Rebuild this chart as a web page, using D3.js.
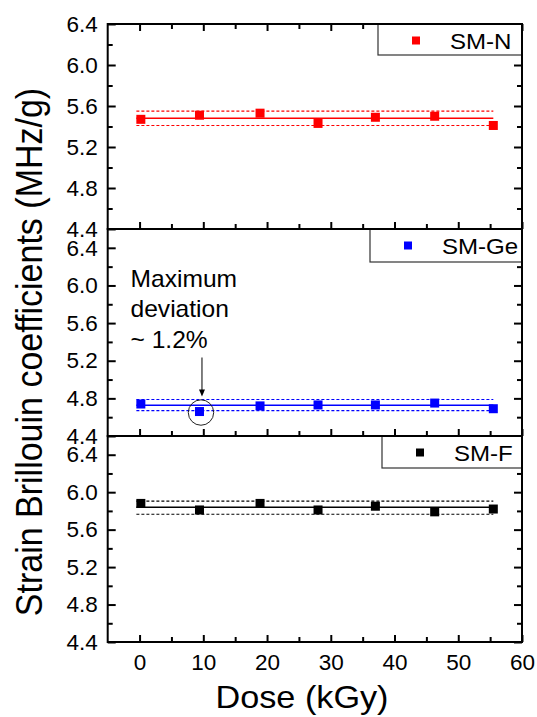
<!DOCTYPE html>
<html><head><meta charset="utf-8">
<script src="https://cdn.jsdelivr.net/npm/d3@7"></script>
<style>
body{margin:0;background:#fff}
svg{display:block}
text{font-family:"Liberation Sans",Arial,Helvetica,sans-serif;fill:#000}
</style>
</head><body>
<svg id="c" width="537" height="717"></svg>
<script>
// ---- data ----
const doses = [0.2, 9.4, 18.9, 28.0, 37.0, 46.3, 55.5];
const seriesNames = ["SM-N", "SM-Ge", "SM-F"];
const seriesColors = ["#ff0000", "#0000ff", "#000000"];
const smN  = [5.47, 5.51, 5.53, 5.43, 5.49, 5.50, 5.41];
const smGe = [4.74, 4.66, 4.72, 4.73, 4.73, 4.75, 4.69];
const smF  = [5.88, 5.81, 5.88, 5.81, 5.85, 5.79, 5.82];
const fitMean  = [5.48, 4.728, 5.84];
const fitUpper = [5.55, 4.788, 5.905];
const fitLower = [5.41, 4.67, 5.765];
const fitRange = [-0.5, 55.5];
const yDomains = [[4.4, 6.4], [4.4, 6.6], [4.4, 6.6]];
const yMajorTicks = [4.4, 4.8, 5.2, 5.6, 6.0, 6.4];
const yMinorTicks = [4.6, 5.0, 5.4, 5.8, 6.2];
const xMajorTicks = [0, 10, 20, 30, 40, 50, 60];
const xMinorTicks = [5, 15, 25, 35, 45, 55];
const xDomain = [-5, 60];
const xTitle = "Dose (kGy)";
const yTitle = "Strain Brillouin coefficients (MHz/g)";
const annotationLines = ["Maximum", "deviation", "~ 1.2%"];
const annotatedIndex = 1; // SM-Ge at second dose

const seriesValues = [smN, smGe, smF];

// ---- layout ----
const svg = d3.select("#c");
const L = 107.7, R = 522;
const tops = [24, 229, 436], bottoms = [229, 436, 642];
const legendLeft = [378, 370, 382];
const legendH = [31, 33, 32];
const x = d3.scaleLinear().domain(xDomain).range([L, R]);
const SX = 1.07;

function stretchedText(g, tx, ty, str, size, anchor, rot) {
  const t = g.append("text")
    .attr("transform", `translate(${tx},${ty}) scale(${SX},1)` + (rot ? ` rotate(${rot})` : ""))
    .attr("font-size", size)
    .attr("text-anchor", anchor || "start")
    .text(str);
  return t;
}

seriesNames.forEach((name, i) => {
  const top = tops[i], bot = bottoms[i];
  const y = d3.scaleLinear().domain(yDomains[i]).range([bot, top]);
  const g = svg.append("g");
  const col = seriesColors[i];
  const vals = seriesValues[i];

  // fit lines
  const lineGen = d3.line().x(d => x(d[0])).y(d => y(d[1]));
  [[fitUpper[i], "3,2", 1.1], [fitLower[i], "3,2", 1.1], [fitMean[i], null, 1.5]].forEach(([v, dash, w]) => {
    g.append("path")
      .attr("d", lineGen([[fitRange[0], v], [fitRange[1], v]]))
      .attr("stroke", col).attr("stroke-width", w).attr("fill", "none")
      .attr("stroke-dasharray", dash);
  });

  // points
  const ms = 9;
  g.selectAll("rect.pt").data(doses.map((d, k) => [d, vals[k]])).enter()
    .append("rect").attr("class", "pt")
    .attr("x", d => x(d[0]) - ms / 2).attr("y", d => y(d[1]) - ms / 2)
    .attr("width", ms).attr("height", ms).attr("fill", col);

  // axes
  const styleAxis = sel => {
    sel.select(".domain").remove();
    sel.selectAll("line").attr("stroke", "#000").attr("stroke-width", 2);
    sel.selectAll("text").attr("font-size", 22.5).attr("fill", "#000")
      .attr("font-family", '"Liberation Sans",Arial,sans-serif');
  };
  g.append("g").attr("transform", `translate(${L},0)`)
    .call(d3.axisLeft(y).tickValues(yMajorTicks).tickSize(-8).tickPadding(10).tickFormat(d3.format(".1f")))
    .call(styleAxis);
  g.append("g").attr("transform", `translate(${L},0)`)
    .call(d3.axisLeft(y).tickValues(yMinorTicks).tickSize(-5).tickFormat(""))
    .call(styleAxis);
  g.append("g").attr("transform", `translate(${R},0)`)
    .call(d3.axisRight(y).tickValues(yMajorTicks).tickSize(-8).tickFormat(""))
    .call(styleAxis);
  g.append("g").attr("transform", `translate(${R},0)`)
    .call(d3.axisRight(y).tickValues(yMinorTicks).tickSize(-5).tickFormat(""))
    .call(styleAxis);
  g.append("g").attr("transform", `translate(0,${bot})`)
    .call(d3.axisBottom(x).tickValues(xMajorTicks).tickSize(-7).tickFormat(i === 2 ? d3.format("d") : "").tickPadding(12))
    .call(styleAxis);
  g.append("g").attr("transform", `translate(0,${bot})`)
    .call(d3.axisBottom(x).tickValues(xMinorTicks).tickSize(-5).tickFormat(""))
    .call(styleAxis);
  if (i === 0) {
    g.append("g").attr("transform", `translate(0,${top})`)
      .call(d3.axisTop(x).tickValues(xMajorTicks).tickSize(-7).tickFormat(""))
      .call(styleAxis);
    g.append("g").attr("transform", `translate(0,${top})`)
      .call(d3.axisTop(x).tickValues(xMinorTicks).tickSize(-5).tickFormat(""))
      .call(styleAxis);
  }

  // legend
  const lx = legendLeft[i];
  g.append("rect").attr("x", lx).attr("y", top).attr("width", R - lx).attr("height", legendH[i])
    .attr("fill", "#fff").attr("stroke", "#333").attr("stroke-width", 1.2);
  g.append("rect").attr("x", lx + 34).attr("y", top + 12.5).attr("width", 8).attr("height", 8).attr("fill", col);
  stretchedText(g, lx + 72, top + 24.5, name, 22.5, "start");

  // frame
  g.append("rect").attr("x", L).attr("y", top).attr("width", R - L).attr("height", bot - top)
    .attr("fill", "none").attr("stroke", "#000").attr("stroke-width", 2);

  // annotation
  if (i === 1) {
    const px = x(doses[annotatedIndex]), py = y(vals[annotatedIndex]);
    g.append("circle").attr("cx", px + 1.5).attr("cy", py + 1).attr("r", 12.7)
      .attr("fill", "none").attr("stroke", "#222").attr("stroke-width", 1);
    g.append("line").attr("x1", px + 2.5).attr("x2", px + 2.5).attr("y1", 357.5).attr("y2", py - 20)
      .attr("stroke", "#000").attr("stroke-width", 1);
    g.append("path").attr("d", `M${px - 0.5},${py - 22} L${px + 5.5},${py - 22} L${px + 2.5},${py - 15} Z`).attr("fill", "#000");
    annotationLines.forEach((s, k) => {
      stretchedText(g, 130.5, [286.5, 316.5, 348][k], s, 23, "start");
    });
  }
});

// titles
stretchedText(svg, 302, 708, xTitle, 32, "middle");
stretchedText(svg, 42, 352, yTitle, 34, "middle", -90);
</script>
</body></html>
